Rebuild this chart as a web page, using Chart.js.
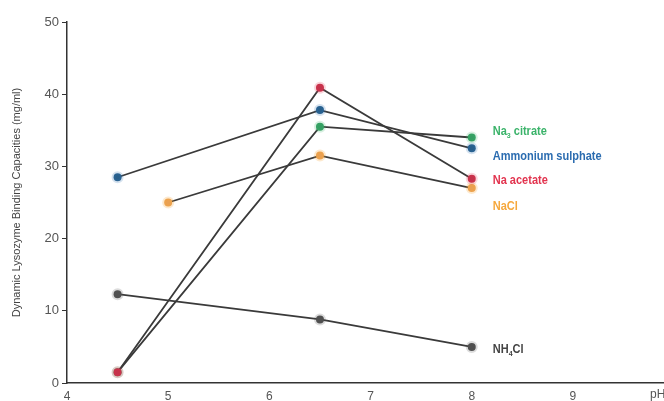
<!DOCTYPE html>
<html>
<head>
<meta charset="utf-8">
<script src="https://cdn.jsdelivr.net/npm/chart.js@4.4.1/dist/chart.umd.min.js"></script>
<style>
  html, body { margin: 0; padding: 0; background: #fff; }
  #wrap { width: 664px; height: 401px; }
</style>
</head>
<body>
<div id="wrap"><canvas id="c" width="664" height="401"></canvas></div>
<script>
// values (pH vs capacity, mg/ml)
const phCitrate = [4.5, 6.5, 8];
const citrate = [1.5, 35.5, 34];
const phSulphate = [4.5, 6.5, 8];
const sulphate = [28.5, 37.8, 32.5];
const phAcetate = [4.5, 6.5, 8];
const acetate = [1.5, 40.9, 28.3];
const phNaCl = [5, 6.5, 8];
const nacl = [25, 31.5, 27];
const phNH4Cl = [4.5, 6.5, 8];
const nh4cl = [12.3, 8.8, 5];

const xTicks = [4, 5, 6, 7, 8, 9];
const yTicks = [0, 10, 20, 30, 40, 50];

// series labels: [main, subscript, rest], value they sit beside
const seriesNames = [['Na', '3', ' citrate'], ['Ammonium sulphate', '', ''], ['Na acetate', '', ''], ['NaCl', '', ''], ['NH', '4', 'Cl']];
const labelValues = [34.8, 31.3, 28, 24.5, 4.6];

const FONT = '"Liberation Sans", Arial, sans-serif';
const colors = ['#3bb36a', '#2b6cb0', '#e2344f', '#f6a83c', '#444444'];
const dotColors = ['#359e63', '#285f8a', '#c4334b', '#e9a053', '#505050'];
const haloColors = ['rgba(59,179,106,0.2)', 'rgba(43,108,176,0.2)', 'rgba(226,52,79,0.2)', 'rgba(246,168,60,0.25)', 'rgba(80,80,80,0.2)'];
const drawOrder = [1, 2, 0, 3, 4];

function pts(xs, ys) {
    return xs.map((x, i) => ({ x: x, y: ys[i] }));
}

const seriesData = [
    pts(phCitrate, citrate),
    pts(phSulphate, sulphate),
    pts(phAcetate, acetate),
    pts(phNaCl, nacl),
    pts(phNH4Cl, nh4cl)
];

const datasets = seriesData.map((d, i) => ({
    data: d,
    order: drawOrder[i],
    borderColor: '#3a3a3a',
    borderWidth: 1.8,
    pointRadius: 4,
    pointBackgroundColor: dotColors[i],
    pointBorderColor: haloColors[i],
    pointBorderWidth: 4,
    tension: 0
}));

const sideLabels = {
    id: 'sideLabels',
    afterDatasetsDraw(chart) {
        const ctx = chart.ctx;
        const xs = chart.scales.x, ys = chart.scales.y;
        const x0 = xs.getPixelForValue(8) + 21;
        ctx.save();
        ctx.textBaseline = 'middle';
        seriesNames.forEach((parts, i) => {
            const y = ys.getPixelForValue(labelValues[i]);
            ctx.save();
            ctx.translate(x0, y);
            ctx.scale(0.88, 1);
            let x = 0;
            ctx.fillStyle = colors[i];
            ctx.font = 'bold 12.5px ' + FONT;
            ctx.fillText(parts[0], x, 0);
            x += ctx.measureText(parts[0]).width;
            if (parts[1]) {
                ctx.font = 'bold 8px ' + FONT;
                ctx.fillText(parts[1], x, 4);
                x += ctx.measureText(parts[1]).width;
            }
            if (parts[2]) {
                ctx.font = 'bold 12.5px ' + FONT;
                ctx.fillText(parts[2], x, 0);
            }
            ctx.restore();
        });
        // axis unit at the end of the x axis
        ctx.fillStyle = '#555';
        ctx.font = '12px ' + FONT;
        ctx.textAlign = 'left';
        ctx.textBaseline = 'middle';
        ctx.fillText('pH', 650, 395);
        ctx.restore();
    }
};

new Chart(document.getElementById('c').getContext('2d'), {
    type: 'line',
    data: { datasets: datasets },
    plugins: [sideLabels],
    options: {
        responsive: false,
        animation: false,
        layout: { autoPadding: false, padding: { top: 22, right: 0, left: 0, bottom: 0 } },
        plugins: { legend: { display: false }, tooltip: { enabled: false } },
        scales: {
            x: {
                type: 'linear',
                min: 4,
                max: 9.9,
                afterBuildTicks: (s) => { s.ticks = xTicks.map(v => ({ value: v })); },
                afterFit: (s) => { s.height = 18; },
                grid: { display: false, drawOnChartArea: false, drawTicks: true, tickLength: 5, tickColor: '#333' },
                border: { color: '#333', width: 1.5 },
                ticks: { color: '#555', font: { family: FONT, size: 12 }, padding: 1, maxRotation: 0 }
            },
            y: {
                min: 0,
                max: 50,
                afterBuildTicks: (s) => { s.ticks = yTicks.map(v => ({ value: v })); },
                afterFit: (s) => { s.width = 67; },
                grid: { drawOnChartArea: false, drawTicks: true, tickLength: 5, tickColor: '#333' },
                border: { color: '#333', width: 1.5 },
                title: {
                    display: true,
                    text: 'Dynamic Lysozyme Binding Capacities (mg/ml)',
                    color: '#444',
                    font: { family: FONT, size: 11 },
                    padding: { top: 10, bottom: 0 }
                },
                ticks: { color: '#555', font: { family: FONT, size: 13 }, padding: 3 }
            }
        }
    }
});
</script>
</body>
</html>
